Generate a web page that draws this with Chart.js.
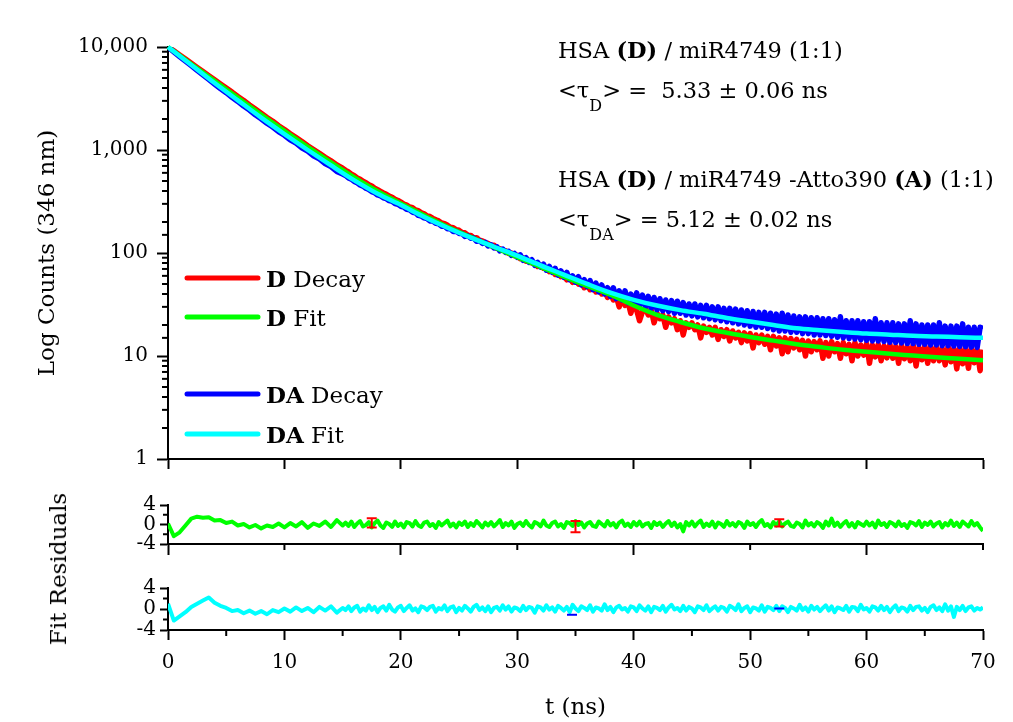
<!DOCTYPE html>
<html>
<head>
<meta charset="utf-8">
<script src="https://cdn.jsdelivr.net/npm/chart.js@4.4.1/dist/chart.umd.min.js"></script>
<style>
  body { margin: 0; background: #fff; }
  #wrap { position: relative; width: 1013px; height: 722px; overflow: hidden; }
  canvas { position: absolute; left: 0; }
  #resLabel { position: absolute; left: 58px; top: 569px; font: 23px "DejaVu Serif"; color: #000;
    transform: translate(-50%, -50%) rotate(-90deg); white-space: nowrap; }
</style>
</head>
<body>
<div id="wrap">
  <canvas id="decay-chart" width="1013" height="480" style="top:0"></canvas>
  <canvas id="res-d" width="1013" height="80" style="top:480px"></canvas>
  <canvas id="res-da" width="1013" height="162" style="top:560px"></canvas>
  <div id="resLabel">Fit Residuals</div>
</div>
<script>
// time channels (ns): 0.5 ns up to 15 ns, then 0.25 ns
var tSamp = [0,0.5,1,1.5,2,2.5,3,3.5,4,4.5,5,5.5,6,6.5,7,7.5,8,8.5,9,9.5,
  10,10.5,11,11.5,12,12.5,13,13.5,14,14.5,15,
  15.25,15.5,15.75,16,16.25,16.5,16.75,17,17.25,17.5,17.75,18,18.25,18.5,18.75,19,19.25,19.5,19.75,20,
  20.25,20.5,20.75,21,21.25,21.5,21.75,22,22.25,22.5,22.75,23,23.25,23.5,23.75,24,24.25,24.5,24.75,25,
  25.25,25.5,25.75,26,26.25,26.5,26.75,27,27.25,27.5,27.75,28,28.25,28.5,28.75,29,29.25,29.5,29.75,30,
  30.25,30.5,30.75,31,31.25,31.5,31.75,32,32.25,32.5,32.75,33,33.25,33.5,33.75,34,34.25,34.5,34.75,35,
  35.25,35.5,35.75,36,36.25,36.5,36.75,37,37.25,37.5,37.75,38,38.25,38.5,38.75,39,39.25,39.5,39.75,40,
  40.25,40.5,40.75,41,41.25,41.5,41.75,42,42.25,42.5,42.75,43,43.25,43.5,43.75,44,44.25,44.5,44.75,45,
  45.25,45.5,45.75,46,46.25,46.5,46.75,47,47.25,47.5,47.75,48,48.25,48.5,48.75,49,49.25,49.5,49.75,50,
  50.25,50.5,50.75,51,51.25,51.5,51.75,52,52.25,52.5,52.75,53,53.25,53.5,53.75,54,54.25,54.5,54.75,55,
  55.25,55.5,55.75,56,56.25,56.5,56.75,57,57.25,57.5,57.75,58,58.25,58.5,58.75,59,59.25,59.5,59.75,60,
  60.25,60.5,60.75,61,61.25,61.5,61.75,62,62.25,62.5,62.75,63,63.25,63.5,63.75,64,64.25,64.5,64.75,65,
  65.25,65.5,65.75,66,66.25,66.5,66.75,67,67.25,67.5,67.75,68,68.25,68.5,68.75,69,69.25,69.5,69.75,70];

// D decay (red)
var dDecay = [10000,9180,8370,7640,6960,6340,5790,5270,4810,4380,
  3990,3650,3310,3030,2740,2500,2280,2070,1900,1720,
  1580,1440,1320,1210,1100,1010,930,850,785,715,665,
  636,612,583, 563,536,520,497, 482,460,447,426, 412,397,383,372, 357,348,333,324,
  312,299,292,280, 275,262,258,246, 240,229,226,217, 210,205,196,193, 186,178,176,168,
  166,158,157,149, 148,140,141,133, 131,126,124,118, 119,111,110,106, 105,99,100,94,
  95,88,90,83, 85,80,79,74, 76,71,72,66, 68,62,65,59, 61,55,58,52,
  55,50,53,46, 50,44,47,42, 45,40,43,37, 41,35,38,30, 37,31,34,26,
  32,28,22,27, 29,25,28,21, 26,23,25,19, 24,21,23,18, 22,16,21,19,
  21,18,20,15, 19.5,17,19,16, 19,14.5,18,15.5, 18,14,17.5,15, 17,13.5,16.8,14,
  16.5,12,16,13.5, 16,13,15.5,11.5, 15.5,12.5,15,10.5, 15,11,14.8,12, 14.5,11.5,14.2,10,
  14,11,13.8,11.5, 14,9.5,13.5,10, 13.8,11,13.2,9.5, 13.5,10.5,13,9, 13.5,10,12.8,10.2,
  13.2,8.5,12.8,9.8, 13,9,12.5,9.6, 13,9.5,12.4,8.5, 12.8,9.4,12.2,9, 12.8,8,12,9.2,
  12.6,8.5,12.2,9, 12.5,9,11.8,8.2, 12.4,8.8,11.8,7.5, 12.2,8.4,11.6,7.6, 12.2,8.6,11.5,7.2,
  11.5];

// DA decay (blue)
var daDecay = [10000,8980,8080,7300,6590,5940,5380,4850,4370,3950,
  3600,3250,2960,2670,2440,2200,2010,1820,1670,1510,
  1390,1255,1165,1050,975,880,820,740,690,620,585,
  566,536,522, 495,480,458,446, 425,414,394,384, 366,359,343,337, 322,317,302,297,
  284,279,265,262, 249,246,232,229, 219,216,205,204, 194,192,182,182, 172,172,162,163,
  155,155,145,147, 139,140,130,132, 124,127,117,120, 112,115,105,109, 101,104,95,99,
  91,96,85,90, 81,86,76,81, 73,78,68,74, 65,71,61,67, 58,65,55,60,
  52,59,49,55, 47,54,44,51, 42,49,40,46, 38,46,36,43, 35,43,33,40,
  32,41,31,39, 30,38,29,37, 28,36,27.5,35, 27,34.5,26,34, 26,33,25,32,
  24.5,32,24,31, 23.5,31,23,30, 22.5,30,22,29, 21.5,29,21,28.5, 20.5,28,20,27.5,
  19.5,27,19,26.5, 19,26.5,18.5,26, 18,25.5,17.5,26, 17.5,25,17,24.5, 17,24,16.5,24,
  16.5,23.5,16,23.5, 16,23,15.8,23, 15.5,22.5,15.2,24, 15,22,14.8,22, 14.6,22,14.4,21.5,
  14.2,21.5,14,23, 14,21,13.8,21, 13.6,21,13.5,20.5, 13.4,20.5,13.2,22, 13.2,20.5,13,20,
  13,20,12.8,20, 12.8,21,12.6,19.5, 12.6,19.5,12.5,19.5, 12.4,20.5,12.3,19, 12.2,19,12.1,19,
  18.5];

// fits, read every 2 ns
var fitT = [0,2,4,6,8,10,12,14,16,18,20,22,24,26,28,30,32,34,
  36,38,40,42,44,46,48,50,52,54,56,58,60,62,64,66,68,70];
var dFit = [10000,6839,4699,3221,2213,1531,1072,759,543,398,302,232,180,143,114,91.2,73.3,58.9,
  47.9,39.4,30.9,25.1,21.4,18.6,16.8,15.3,14.1,13.0,12.2,11.5,11.0,10.5,10.1,9.7,9.4,9.1];
var daFit = [10000,6683,4467,3034,2065,1429,1000,708,507,376,292,224,176,141,115,94.4,75.9,61.7,
  50.1,41.2,35.1,30.9,27.9,25.7,23.4,21.6,20.0,18.6,17.8,17.1,16.5,16.1,15.7,15.5,15.2,15.0];

// fit residuals
var dRes = [0.2,-2.4,-1.6,-0.2,1.2,1.6,1.4,1.5,0.8,0.9,
  0.3,0.6,-0.2,0.1,-0.6,-0.1,-0.8,-0.2,-0.5,0.2,
  -0.6,0.3,-0.4,0.5,-0.7,0.2,-0.3,0.6,-0.5,0.9,-0.2,
  0.4,-0.3,0.6,-0.5,0.2,0.7,-0.4,-0.1,0.5,-0.6,
  0.3,0.8,-0.2,-0.7,0.4,0.1,-0.5,0.6,-0.3,0.2,
  -0.6,0.5,0.3,-0.4,0.7,-0.2,-0.5,0.4,0.6,-0.3,
  0.1,-0.7,0.5,-0.2,0.3,0.8,-0.4,0.2,-0.6,0.4,
  -0.1,0.6,-0.5,0.3,-0.3,0.7,0.1,-0.6,0.4,-0.2,
  0.5,-0.4,0.2,0.9,-0.5,0.3,-0.2,0.6,-0.7,0.1,
  0.4,-0.3,0.7,-0.1,-0.6,0.5,0.2,-0.4,0.8,-0.2,
  -0.5,0.3,0.6,-0.4,0.1,-0.7,0.5,0.3,-0.3,0.7,
  -0.1,0.4,-0.6,0.2,0.5,-0.3,-0.5,0.6,0.1,-0.4,
  0.7,-0.2,0.3,-0.6,0.4,0.8,-0.3,0.2,-0.5,0.5,
  -0.2,0.6,-0.4,0.1,0.3,-0.7,0.5,-0.1,0.4,-0.5,
  0.2,0.7,-0.3,0.4,-0.6,0.1,-1.4,0.5,-0.2,0.6,
  -0.4,0.3,0.8,-0.5,0.2,-0.3,0.6,-0.6,0.4,0.1,
  -0.5,0.7,-0.2,0.3,-0.4,0.5,0.2,-0.7,0.6,-0.1,
  0.3,-0.5,0.4,0.9,-0.3,0.1,-0.6,0.5,-0.2,0.7,
  -0.4,0.2,0.6,-0.3,-0.5,0.4,0.1,-0.6,0.8,-0.2,
  0.3,-0.4,0.5,0.1,-0.7,0.6,-0.2,1.2,-0.3,0.4,
  -0.5,0.2,0.7,-0.4,0.3,-0.6,0.5,0.1,-0.3,0.6,
  -0.2,0.4,-0.6,0.8,-0.1,0.3,-0.5,0.5,0.2,-0.4,
  0.6,-0.3,0.1,-0.7,0.5,0.3,-0.2,0.7,-0.5,0.4,
  -0.1,0.6,-0.4,0.2,0.5,-0.6,0.3,-0.2,0.8,-0.3,
  0.4,-0.5,0.6,0.1,-0.4,0.7,-0.2,0.3,-0.6,-1.3];
var daRes = [1.0,-2.2,-1.4,-0.6,0.4,1.0,1.6,2.2,1.2,0.6,
  0.2,-0.4,-0.2,-0.8,-0.3,-0.9,-0.4,-1.0,-0.2,-0.6,
  0.1,-0.5,0.3,-0.4,0.2,-0.6,0.4,-0.3,0.5,-0.7,0.2,
  -0.2,0.5,-0.4,0.3,0.6,-0.5,0.1,-0.3,0.7,-0.2,
  0.4,-0.6,0.2,0.5,-0.3,0.8,-0.1,-0.5,0.3,0.6,
  -0.4,0.2,0.7,-0.3,0.1,-0.6,0.5,0.3,-0.2,0.4,
  0.6,-0.5,0.2,-0.1,0.7,-0.4,0.3,0.5,-0.6,0.2,
  -0.3,0.6,0.1,-0.5,0.4,0.8,-0.2,0.3,-0.4,0.5,
  -0.6,0.2,0.4,-0.3,0.7,-0.1,0.5,-0.5,0.3,0.1,
  -0.4,0.6,-0.2,0.4,0.2,-0.7,0.5,0.3,-0.3,0.7,
  -0.1,0.3,-0.5,0.6,0.2,-0.3,0.4,-0.6,0.8,0.1,
  -0.4,0.5,0.2,-0.2,0.7,-0.5,0.3,0.1,-0.3,0.9,
  -0.2,0.4,-0.6,0.3,0.6,-0.1,0.2,-0.5,0.5,0.3,
  -0.4,0.7,0.1,-0.3,0.5,-0.6,0.4,0.2,-0.2,0.6,
  -0.5,0.3,0.8,-0.1,0.2,-0.4,0.6,-0.3,0.4,0.1,
  -0.6,0.5,0.3,-0.2,0.7,-0.4,0.1,0.5,-0.3,0.4,
  0.2,-0.5,0.6,0.3,-0.2,0.9,-0.4,0.2,0.5,-0.6,
  0.3,0.1,-0.3,0.7,-0.5,0.4,0.2,-0.2,0.6,-0.4,
  0.5,0.2,-0.6,0.4,0.1,-0.3,0.8,-0.2,0.3,-0.5,
  0.6,-0.1,0.4,-0.4,0.2,0.7,-0.3,0.5,-0.6,0.3,
  0.1,-0.2,0.6,-0.5,0.4,0.3,-0.4,0.8,-0.1,0.2,
  -0.5,0.5,0.3,-0.3,0.6,-0.2,0.4,-0.6,0.2,0.7,
  -0.4,0.3,0.1,-0.5,0.6,-0.2,0.4,0.5,-0.3,0.2,
  -0.6,0.4,0.7,-0.2,0.3,-0.4,0.9,-0.3,0.5,-1.5,
  0.4,-0.2,0.6,-0.4,0.3,0.5,-0.3,0.2,-0.1,0.3];

// error bars on the D residuals, stray marks on the DA residuals
var errT = [17.5, 35, 52.5];
var errLow = [-0.6, -1.6, -0.4];
var errHigh = [1.3, 0.7, 1.1];
var markT = [34.7, 52.5];
var markV = [-1.1, 0.1];

var legendBold = ["D", "D", "DA", "DA"];
var legendRest = [" Decay", " Fit", " Decay", " Fit"];

var FONT = "DejaVu Serif";

function pts(xs, ys) {
    return xs.map(function (x, i) { return { x: x, y: ys[i] }; });
}
function isPow10(v) {
    var l = Math.log10(v);
    return Math.abs(l - Math.round(l)) < 1e-9;
}

// short ticks for the minor values, drawn through the scales
function minorTicks(specs) {
    return {
        id: 'minorTicks',
        afterDraw: function (chart) {
            var c = chart.ctx;
            c.save();
            c.strokeStyle = '#000';
            c.lineWidth = 2;
            specs.forEach(function (s) {
                var scale = chart.scales[s.id];
                scale.ticks.forEach(function (t) {
                    if (s.major(t.value)) return;
                    var p = scale.getPixelForValue(t.value);
                    c.beginPath();
                    if (scale.axis === 'y') {
                        c.moveTo(scale.right, p); c.lineTo(scale.right - s.len, p);
                    } else {
                        c.moveTo(p, scale.top); c.lineTo(p, scale.top + s.len);
                    }
                    c.stroke();
                });
            });
            c.restore();
        }
    };
}

function drawParts(c, x, y, parts, size) {
    parts.forEach(function (p) {
        if (p[1] === 'sub') {
            c.font = '16px "' + FONT + '"';
            c.fillText(p[0], x, y + 13);
        } else {
            c.font = (p[1] === 'bold' ? 'bold ' : '') + size + 'px "' + FONT + '"';
            c.fillText(p[0], x, y);
        }
        x += c.measureText(p[0]).width;
    });
}

// text notes and legend of the decay panel
var notesPlugin = {
    id: 'notes',
    afterDraw: function (chart) {
        var c = chart.ctx;
        c.save();
        c.fillStyle = '#000';
        c.textBaseline = 'alphabetic';
        drawParts(c, 558, 58, [['HSA ', ''], ['(D)', 'bold'], [' / miR4749 (1:1)', '']], 22.5);
        drawParts(c, 558, 98, [['<τ', ''], ['D', 'sub'], ['> =  5.33 ± 0.06 ns', '']], 22.5);
        drawParts(c, 558, 187, [['HSA ', ''], ['(D)', 'bold'], [' / miR4749 -Atto390 ', ''], ['(A)', 'bold'], [' (1:1)', '']], 22.5);
        drawParts(c, 558, 227, [['<τ', ''], ['DA', 'sub'], ['> = 5.12 ± 0.02 ns', '']], 22.5);

        var rows = [278, 317, 394, 434];
        var ds = chart.data.datasets;
        for (var i = 0; i < 4; i++) {
            c.strokeStyle = ds[i].borderColor;
            c.lineWidth = 5;
            c.lineCap = 'round';
            c.beginPath();
            c.moveTo(187, rows[i]); c.lineTo(258, rows[i]);
            c.stroke();
            drawParts(c, 266, rows[i] + 9, [[legendBold[i], 'bold'], [legendRest[i], '']], 23);
        }
        c.restore();
    }
};

var errPlugin = {
    id: 'errBars',
    afterDatasetsDraw: function (chart) {
        var c = chart.ctx, xs = chart.scales.x, ys = chart.scales.y;
        c.save();
        c.strokeStyle = '#ff0000';
        c.lineWidth = 2;
        errT.forEach(function (t, i) {
            var x = xs.getPixelForValue(t);
            var y1 = ys.getPixelForValue(errLow[i]), y2 = ys.getPixelForValue(errHigh[i]);
            c.beginPath();
            c.moveTo(x, y1); c.lineTo(x, y2);
            c.moveTo(x - 5, y1); c.lineTo(x + 5, y1);
            c.moveTo(x - 5, y2); c.lineTo(x + 5, y2);
            c.stroke();
        });
        c.restore();
    }
};

Chart.defaults.font.family = FONT;
Chart.defaults.color = '#000';

function xAxis(step, tickLen, major, showLabels, height, title) {
    return {
        type: 'linear', min: 0, max: 70,
        afterFit: function (s) { s.height = height; },
        border: { display: true, color: '#000', width: 2 },
        grid: {
            drawOnChartArea: false, tickLength: tickLen, tickWidth: 2,
            tickColor: function (ctx) { return major(ctx.tick.value) ? '#000' : 'rgba(0,0,0,0)'; }
        },
        ticks: {
            stepSize: step, autoSkip: false, maxRotation: 0, padding: 11,
            font: { size: 20 },
            callback: function (v) { return showLabels && v % 10 === 0 ? String(v) : ''; }
        },
        title: title ? { display: true, text: title, font: { size: 23 }, padding: { top: 0, bottom: 0 } } : { display: false }
    };
}

function resAxis() {
    return {
        min: -4, max: 4,
        afterFit: function (s) { s.width = 168; },
        border: { display: true, color: '#000', width: 2 },
        grid: {
            drawOnChartArea: false, tickLength: 8, tickWidth: 2,
            tickColor: function (ctx) { return ctx.tick.value % 4 === 0 ? '#000' : 'rgba(0,0,0,0)'; }
        },
        ticks: {
            stepSize: 2, autoSkip: false, padding: 4, font: { size: 20 },
            callback: function (v) { return v % 4 === 0 ? String(v) : ''; }
        }
    };
}

var common = {
    responsive: false,
    animation: false,
    events: [],
    plugins: { legend: { display: false }, tooltip: { enabled: false } },
    elements: { point: { radius: 0 }, line: { borderJoinStyle: 'round' } }
};

new Chart(document.getElementById('decay-chart'), {
    type: 'line',
    data: {
        datasets: [
            { label: 'D Decay', data: pts(tSamp, dDecay), borderColor: '#ff0000', borderWidth: 5.5, order: 3 },
            { label: 'D Fit', data: pts(fitT, dFit), borderColor: '#00ff00', borderWidth: 4.5, cubicInterpolationMode: 'monotone', order: 1, clip: false },
            { label: 'DA Decay', data: pts(tSamp, daDecay), borderColor: '#0000ff', borderWidth: 5.5, order: 2 },
            { label: 'DA Fit', data: pts(fitT, daFit), borderColor: '#00ffff', borderWidth: 4.5, cubicInterpolationMode: 'monotone', order: 0, clip: false }
        ]
    },
    options: Object.assign({}, common, {
        layout: { padding: { top: 47, right: 30, left: 0, bottom: 0 } },
        scales: {
            x: xAxis(10, 10, function () { return true; }, false, 15, null),
            y: {
                type: 'logarithmic', min: 1, max: 10000,
                afterFit: function (s) { s.width = 168; },
                border: { display: true, color: '#000', width: 2 },
                grid: {
                    drawOnChartArea: false, tickLength: 11, tickWidth: 2,
                    tickColor: function (ctx) { return isPow10(ctx.tick.value) ? '#000' : 'rgba(0,0,0,0)'; }
                },
                ticks: {
                    autoSkip: false, padding: 9, font: { size: 20 },
                    callback: function (v) { return isPow10(v) ? Number(v).toLocaleString('en-US') : ''; }
                },
                title: { display: true, text: 'Log Counts (346 nm)', font: { size: 23 }, padding: { top: 34, bottom: 0 } }
            }
        }
    }),
    plugins: [minorTicks([{ id: 'y', len: 6, major: isPow10 }]), notesPlugin]
});

new Chart(document.getElementById('res-d'), {
    type: 'line',
    data: {
        datasets: [
            { label: 'D residuals', data: pts(tSamp, dRes), borderColor: '#00ff00', borderWidth: 4 }
        ]
    },
    options: Object.assign({}, common, {
        layout: { padding: { top: 25, right: 30, left: 0, bottom: 0 } },
        scales: {
            x: xAxis(10, 11, function (v) { return v % 20 === 0 && v < 70; }, false, 13, null),
            y: resAxis()
        }
    }),
    plugins: [minorTicks([{ id: 'x', len: 6, major: function (v) { return v % 20 === 0 && v < 70; } },
                          { id: 'y', len: 5, major: function (v) { return v % 4 === 0; } }]), errPlugin]
});

new Chart(document.getElementById('res-da'), {
    type: 'line',
    data: {
        datasets: [
            { label: 'marks', data: pts(markT, markV), showLine: false, pointStyle: 'line', pointRadius: 5,
              borderColor: '#0000ff', borderWidth: 2, order: 0 },
            { label: 'DA residuals', data: pts(tSamp, daRes), borderColor: '#00ffff', borderWidth: 4, order: 1 }
        ]
    },
    options: Object.assign({}, common, {
        layout: { padding: { top: 28, right: 30, left: 0, bottom: 0 } },
        scales: {
            x: xAxis(5, 10, function (v) { return v % 10 === 0; }, true, 92, 't (ns)'),
            y: resAxis()
        }
    }),
    plugins: [minorTicks([{ id: 'x', len: 6, major: function (v) { return v % 10 === 0; } },
                          { id: 'y', len: 5, major: function (v) { return v % 4 === 0; } }])]
});
</script>
</body>
</html>
